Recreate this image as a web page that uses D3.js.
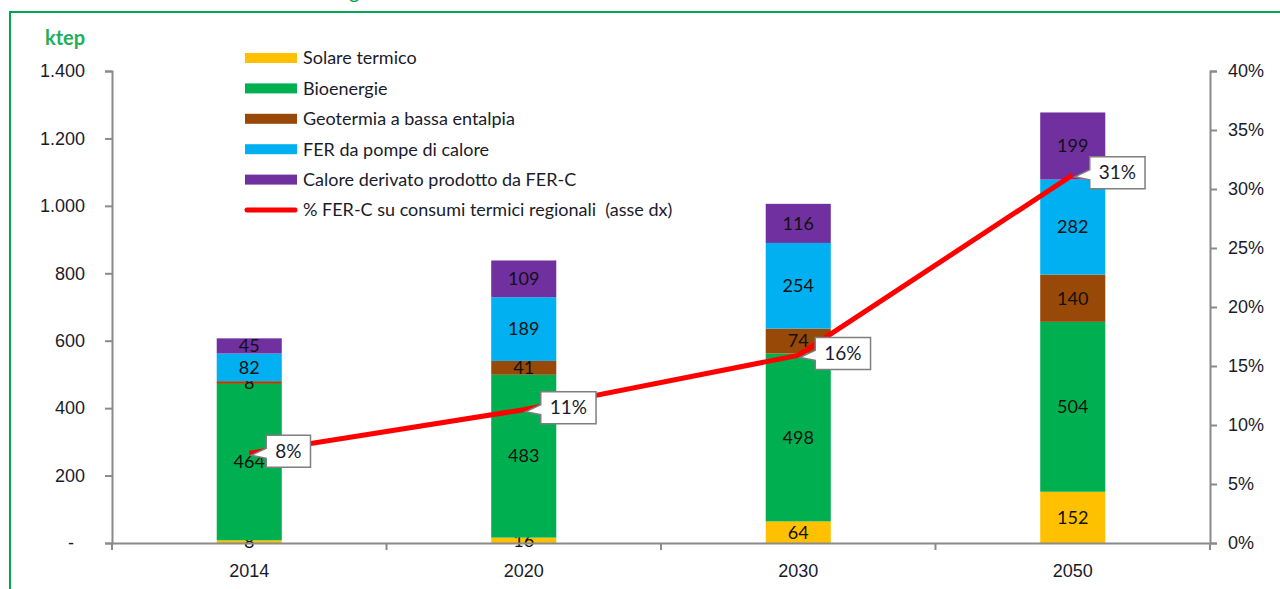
<!DOCTYPE html>
<html>
<head>
<meta charset="utf-8">
<script src="https://cdn.jsdelivr.net/npm/d3@7"></script>
<style>
  body { margin: 0; background: #fff; }
  svg { font-family: Lato, "Open Sans", sans-serif; }
</style>
</head>
<body>
<div class="graph"></div>
<script>
// data
var years = ["2014", "2020", "2030", "2050"];
var seriesNames = ["Solare termico", "Bioenergie", "Geotermia a bassa entalpia", "FER da pompe di calore", "Calore derivato prodotto da FER-C"];
var seriesColors = ["#ffc000", "#00b050", "#984807", "#00b0f0", "#7030a0"];
var solare = [8, 16, 64, 152];
var bioenergie = [464, 483, 498, 504];
var geotermia = [8, 41, 74, 140];
var pompe = [82, 189, 254, 282];
var calore = [45, 109, 116, 199];
var quotaFerC = [0.076, 0.113, 0.159, 0.312];   // % FER-C (asse dx)
var leftTicks = [0, 200, 400, 600, 800, 1000, 1200, 1400];
var rightTicks = [0, 0.05, 0.10, 0.15, 0.20, 0.25, 0.30, 0.35, 0.40];
var lineLabel = "% FER-C su consumi termici regionali  (asse dx)";

var width = 1280, height = 589;
var mLeft = 112, mRight = 1210, mTop = 71, mBottom = 543;
var axisGrey = "#8a8a8a", textCol = "#1b1b2b";

var svg = d3.select(".graph").append("svg")
  .attr("width", width)
  .attr("height", height);

// green frame + cut off title
svg.append("rect")
  .attr("x", 10).attr("y", 12)
  .attr("width", 1300).attr("height", 620)
  .attr("fill", "none").attr("stroke", "#00a651").attr("stroke-width", 2);
svg.append("text")
  .attr("x", 349).attr("y", -1)
  .attr("fill", "#00a651").style("font-size", "20px")
  .text("g");

var rows = years.map(function (y, i) {
  return { year: y, s0: solare[i], s1: bioenergie[i], s2: geotermia[i], s3: pompe[i], s4: calore[i] };
});
var keys = ["s0", "s1", "s2", "s3", "s4"];
var stack = d3.stack().keys(keys)(rows);

var x = d3.scaleBand().domain(years).range([mLeft, mRight])
  .paddingInner(0.763).paddingOuter(0.3815);
var y = d3.scaleLinear().domain([0, 1400]).range([mBottom, mTop]);
var y2 = d3.scaleLinear().domain([0, 0.40]).range([mBottom, mTop]);

var it = d3.formatLocale({ decimal: ",", thousands: ".", grouping: [3], currency: ["€", ""] });

// bars
var layer = svg.append("g").selectAll("g")
  .data(stack)
  .enter().append("g")
  .attr("fill", function (d, i) { return seriesColors[i]; });

layer.selectAll("rect")
  .data(function (d) { return d; })
  .enter().append("rect")
  .attr("x", function (d) { return x(d.data.year); })
  .attr("width", x.bandwidth())
  .attr("y", function (d) { return y(d[1]); })
  .attr("height", function (d) { return y(d[0]) - y(d[1]); });

layer.selectAll("text")
  .data(function (d) { return d; })
  .enter().append("text")
  .attr("x", function (d) { return x(d.data.year) + x.bandwidth() / 2; })
  .attr("y", function (d) { return (y(d[0]) + y(d[1])) / 2; })
  .attr("dy", "0.35em")
  .attr("text-anchor", "middle")
  .attr("fill", "#111")
  .style("font-size", "18px")
  .text(function (d) { return d[1] - d[0]; });

// left axis
var yAxis = svg.append("g")
  .attr("transform", "translate(" + mLeft + ",0)")
  .call(d3.axisLeft(y).tickValues(leftTicks).tickSize(7).tickPadding(20)
    .tickFormat(function (d) { return d === 0 ? "-" : it.format(",")(d); }));
yAxis.selectAll("text").style("font-size", "18px").attr("fill", textCol);
yAxis.selectAll("text").filter(function (d) { return d === 0; }).attr("x", -38);

// right axis
var y2Axis = svg.append("g")
  .attr("transform", "translate(" + mRight + ",0)")
  .call(d3.axisRight(y2).tickValues(rightTicks).tickSize(7).tickPadding(11)
    .tickFormat(d3.format(".0%")));
y2Axis.selectAll("text").style("font-size", "18px").attr("fill", textCol);

// bottom axis
var xAxis = svg.append("g")
  .attr("transform", "translate(0," + mBottom + ")")
  .call(d3.axisBottom(x).tickSize(0).tickPadding(21));
xAxis.selectAll("text").style("font-size", "18px").attr("fill", textCol);
svg.append("g").selectAll("line")
  .data(d3.range(years.length + 1))
  .enter().append("line")
  .attr("x1", function (i) { return x.range()[0] + i * x.step(); })
  .attr("x2", function (i) { return x.range()[0] + i * x.step(); })
  .attr("y1", mBottom).attr("y2", mBottom + 7)
  .attr("stroke", axisGrey).attr("stroke-width", 2);

[yAxis, y2Axis, xAxis].forEach(function (a) {
  a.selectAll("path, line").attr("stroke", axisGrey).attr("stroke-width", 2);
});

// red line
var pts = years.map(function (yr, i) {
  return [x(yr) + x.bandwidth() / 2, y2(quotaFerC[i])];
});
svg.append("path")
  .attr("d", d3.line()(pts))
  .attr("fill", "none")
  .attr("stroke", "#ff0000")
  .attr("stroke-width", 5)
  .attr("stroke-linejoin", "round");

// callouts
var callout = svg.append("g").selectAll("g")
  .data(pts)
  .enter().append("g");

callout.each(function (p, i) {
  var g = d3.select(this);
  var label = d3.format(".0%")(quotaFerC[i]);
  var t = g.append("text")
    .attr("fill", textCol)
    .style("font-size", "19px")
    .text(label);
  var w = t.node().getComputedTextLength() + 18;
  var h = 32;
  var x0 = p[0] + 17, y0 = p[1] - 18;
  g.insert("path", "text")
    .attr("d", "M" + x0 + "," + y0 + "H" + (x0 + w) + "V" + (y0 + h) + "H" + x0 +
      "V" + (y0 + 23) + "L" + (p[0] + 2) + "," + (p[1] + 2) + "L" + x0 + "," + (y0 + 13) + "Z")
    .attr("fill", "#fff")
    .attr("stroke", "#7f7f7f")
    .attr("stroke-width", 1.5);
  t.attr("x", x0 + w / 2).attr("y", y0 + h / 2).attr("dy", "0.35em").attr("text-anchor", "middle");
});

// unit label
svg.append("text")
  .attr("x", 45).attr("y", 45)
  .attr("fill", "#1fae5a")
  .style("font-size", "20px").style("font-weight", "bold")
  .text("ktep");

// legend
var legend = svg.append("g").attr("transform", "translate(245,58)");
var items = seriesNames.concat([lineLabel]);
var li = legend.selectAll("g")
  .data(items)
  .enter().append("g")
  .attr("transform", function (d, i) { return "translate(0," + (i * 30.4) + ")"; });

li.filter(function (d, i) { return i < seriesNames.length; })
  .append("rect")
  .attr("x", 0).attr("y", -5)
  .attr("width", 52).attr("height", 10)
  .attr("fill", function (d, i) { return seriesColors[i]; });

li.filter(function (d, i) { return i === seriesNames.length; })
  .append("line")
  .attr("x1", 2).attr("x2", 50)
  .attr("stroke", "#ff0000").attr("stroke-width", 5).attr("stroke-linecap", "round");

li.append("text")
  .attr("x", 58).attr("dy", "0.35em")
  .attr("fill", textCol)
  .style("font-size", "18px")
  .style("white-space", "pre")
  .text(function (d) { return d; });
</script>
</body>
</html>
